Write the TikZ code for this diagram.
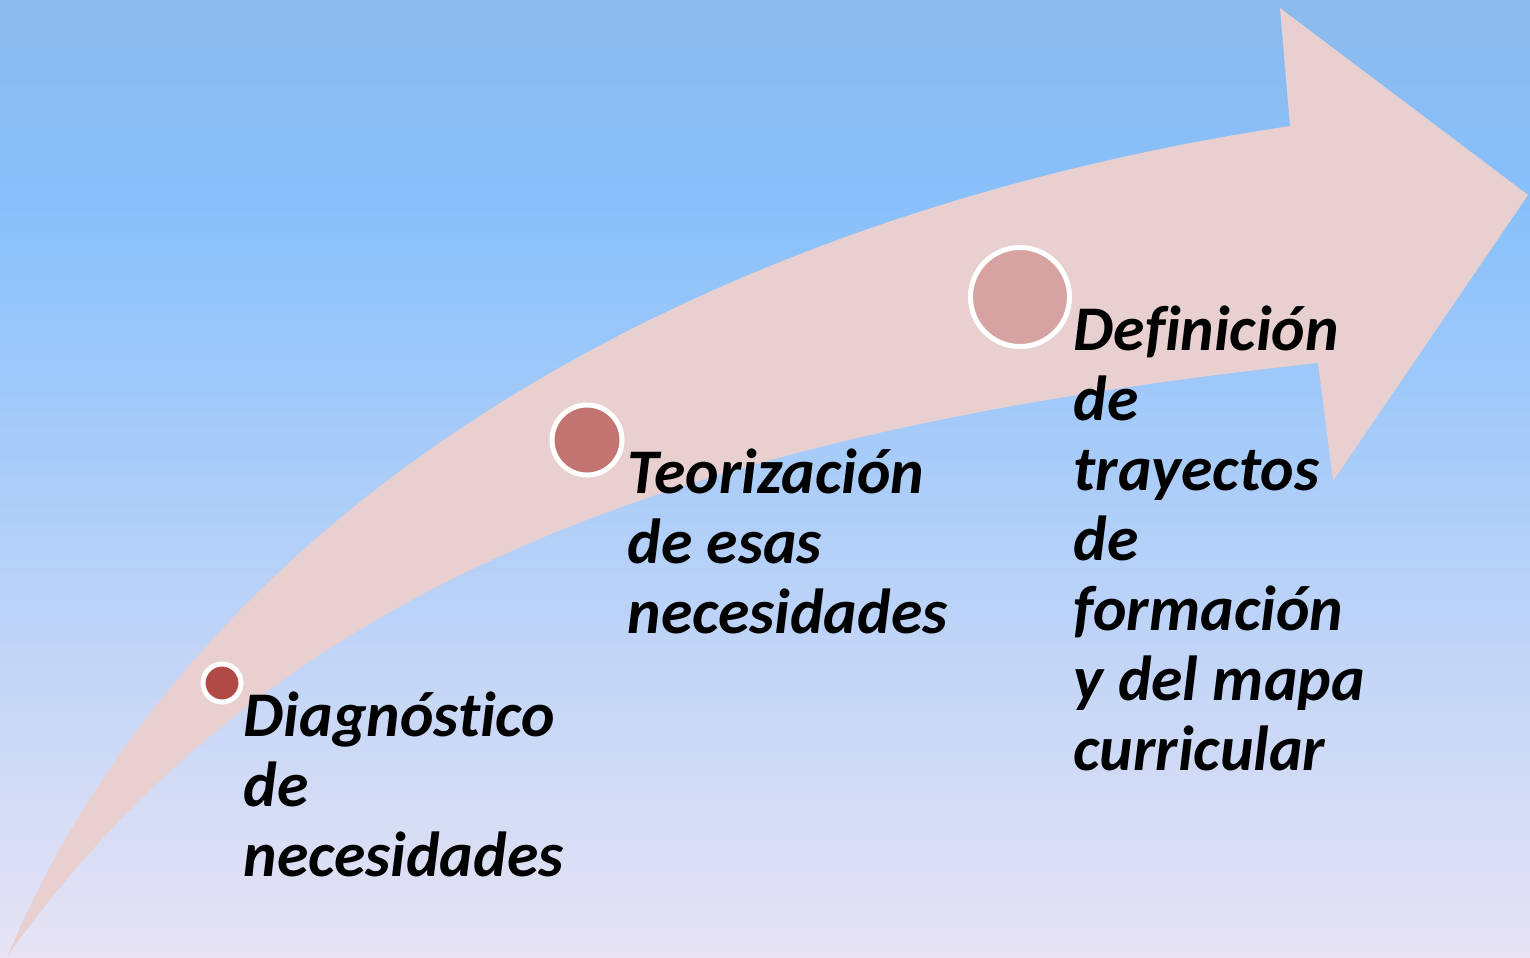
\documentclass[tikz,border=0pt]{standalone}
\usepackage{fontspec}
\setmainfont{Carlito}[Ligatures=NoCommon]
\usepackage{tikz}

\definecolor{fondoarriba}{HTML}{8CBAEC}
\definecolor{fondomedio}{HTML}{88C0FB}
\definecolor{fondoabajo}{HTML}{E7E3F4}
\definecolor{flecha}{HTML}{E8D0D0}
\definecolor{paso1}{HTML}{B04A46}
\definecolor{paso2}{HTML}{C47470}
\definecolor{paso3}{HTML}{D7A2A2}

\pgfdeclareverticalshading{fondo}{100bp}{color(0bp)=(fondoabajo); color(25bp)=(fondoabajo); color(64.5bp)=(fondomedio); color(75bp)=(fondoarriba); color(100bp)=(fondoarriba)}

\tikzset{
  hito/.style={circle, draw=white, line width=0.05cm, inner sep=0pt},
  texto/.style={anchor=base west, inner sep=0pt, align=left,
    font=\fontsize{18.1pt}{19.9pt}\selectfont\bfseries\itshape}
}

\begin{document}
\begin{tikzpicture}[x=0.01cm, y=-0.01cm]
        % fondo
        \shade[shading=fondo] (0,0) rectangle (1530,957);
        \useasboundingbox (0,0) rectangle (1530,957);

        % flecha curva
        \fill[flecha] (8,955) .. controls (200,500) and (700,215) .. (1290,126)
            -- (1280,8) -- (1528,195) -- (1333,481) -- (1318,363)
            .. controls (700,430) and (280,575) .. (8,955) -- cycle;

        % pasos
        \node[hito, fill=paso1, minimum size=0.38cm] (1) at (222,683) {};
        \node[hito, fill=paso2, minimum size=0.70cm] (2) at (587,440) {};
        \node[hito, fill=paso3, minimum size=0.99cm] (3) at (1020,297) {};

        % textos (base = ultima linea)
        \node[texto] (t1) at (243,876) {Diagnóstico\\de\\necesidades};
        \node[texto] (t2) at (627,633) {Teorización\\de esas\\necesidades};
        \node[texto] (t3) at (1073,770) {Definición\\de\\trayectos\\de\\formación\\y del mapa\\curricular};
    \end{tikzpicture}
\end{document}
